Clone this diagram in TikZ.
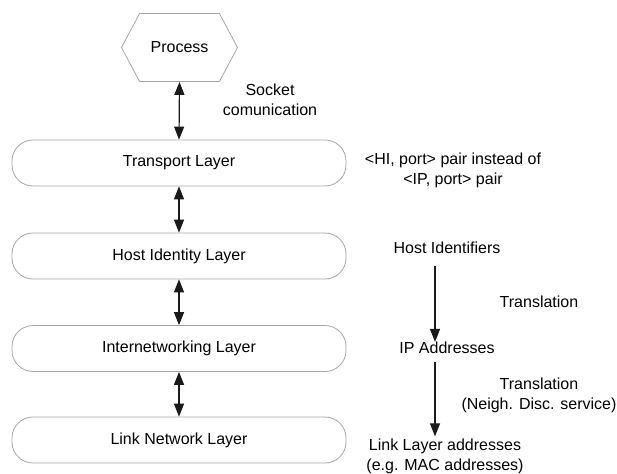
\documentclass[tikz,border=0pt]{standalone}
\usepackage{fontspec}
\setmainfont{Liberation Sans}
\usetikzlibrary{positioning,arrows.meta,shapes.symbols}
\definecolor{LayerGray}{HTML}{A6A6A6}
\definecolor{ArrowBlack}{HTML}{1A1A1A}

\begin{document}
\begin{tikzpicture}[x=1pt,y=-1pt,
    every node/.style={font=\fontsize{16}{20}\selectfont,inner sep=0pt},
    layer/.style={draw=LayerGray,line width=0.8pt,rounded corners=21pt,
      minimum width=334pt,minimum height=46pt},
    proc/.style={draw=LayerGray,line width=0.8pt,signal,
      signal to=west and east,signal pointer angle=124,
      minimum width=116pt,minimum height=68pt},
    link/.style={{Triangle[width=10pt,length=13pt]}-{Triangle[width=10pt,length=13pt]},
      line width=1.2pt,ArrowBlack},
    flow/.style={-{Triangle[width=10pt,length=13pt]},line width=1.2pt,ArrowBlack}]
    \useasboundingbox (0,0) rectangle (617,473);
    % stack
    \node[proc] (process) at (179.5,47.5) {Process};
    \node[layer] (transport) at (179,163) {Transport Layer};
    \node[layer] (hip) at (179,256) {Host Identity Layer};
    \node[layer] (inet) at (179,348.5) {Internetworking Layer};
    \node[layer] (linklayer) at (179,440) {Link Network Layer};
    \draw[link] (process.south) -- (transport.north);
    \draw[link] (transport.south) -- (hip.north);
    \draw[link] (hip.south) -- (inet.north);
    \draw[link] (inet.south) -- (linklayer.north);
    % notes
    \node[align=center] (sock) at (270,100) {Socket\\comunication};
    \node[align=center] (hipair) at (453,170) {<HI, port> pair instead of\\<IP, port> pair};
    % identifiers
    \node (hid) at (447,248) {Host Identifiers};
    \node (ipaddr) at (447,348) {IP Addresses};
    \node[align=center] (lladdr) at (445,456) {Link Layer addresses\\(e.g. MAC addresses)};
    \draw[flow,shorten <=12pt] ([xshift=-12pt]hid.south) -- ([xshift=-12pt]ipaddr.north);
    \draw[flow,shorten <=8pt,shorten >=2pt] ([xshift=-12pt]ipaddr.south) -- ([xshift=-10pt]lladdr.north);
    \node (trans1) at (539,302) {Translation};
    \node[align=center] (trans2) at (539,395) {Translation\\(Neigh. Disc. service)};
\end{tikzpicture}
\end{document}
